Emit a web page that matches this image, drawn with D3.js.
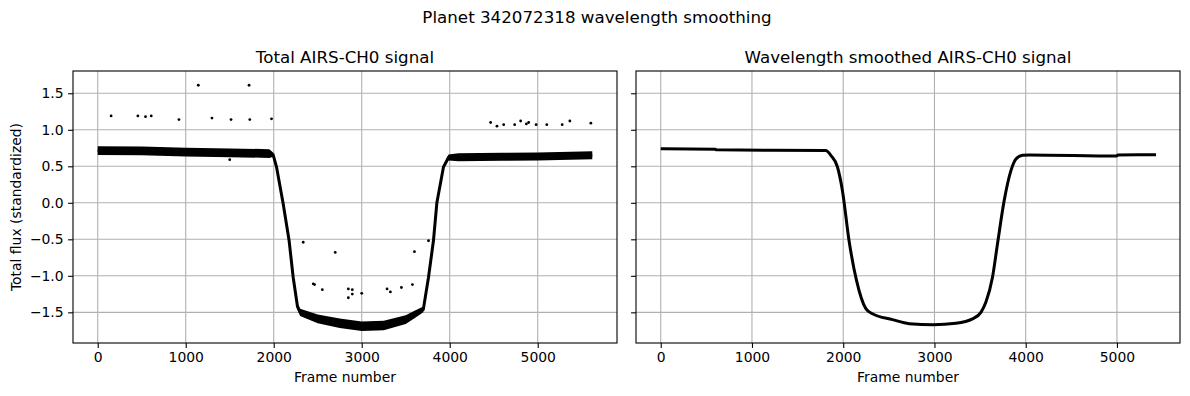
<!DOCTYPE html>
<html>
<head>
<meta charset="utf-8">
<script src="https://cdn.jsdelivr.net/npm/d3@7"></script>
<style>
  body { margin: 0; background: #fff; }
  svg { display: block; font-family: "DejaVu Sans", sans-serif; }
</style>
</head>
<body>
<div id="chart"></div>
<script>
// raw signal: centre of the noisy band and its half-spread
var rawFrames = [0, 500, 1000, 1500, 1950, 1993, 2032, 2107, 2175, 2221, 2270, 2300, 2500, 2750, 3000, 3250, 3500, 3600, 3700, 3759, 3815, 3854, 3929, 3986, 4100, 4600, 5000, 5620];
var rawFlux   = [0.715, 0.71, 0.695, 0.685, 0.675, 0.66, 0.49, -0.01, -0.52, -1.02, -1.42, -1.50, -1.59, -1.65, -1.69, -1.68, -1.60, -1.53, -1.46, -1.02, -0.52, 0.0, 0.49, 0.62, 0.625, 0.63, 0.635, 0.65];
var rawSpread = [0.06, 0.06, 0.06, 0.06, 0.06, 0.03, 0.02, 0.02, 0.02, 0.02, 0.04, 0.05, 0.06, 0.065, 0.065, 0.065, 0.06, 0.05, 0.04, 0.02, 0.02, 0.02, 0.02, 0.04, 0.055, 0.055, 0.055, 0.055];

// isolated points of the raw signal
var outlierFrames = [152, 456, 543, 608, 923, 1143, 1298, 1515, 1720, 1728, 1975, 1500,
    4465, 4537, 4613, 4738, 4806, 4871, 4897, 4982, 5103, 5278, 5365, 5604,
    2335, 2699, 3599, 3759, 2449, 2464, 2552, 2848, 2893, 2848, 2893, 3000, 3288, 3326, 3451, 3576];
var outlierFlux = [1.19, 1.19, 1.18, 1.19, 1.14, 1.61, 1.16, 1.14, 1.61, 1.14, 1.15, 0.59,
    1.10, 1.05, 1.07, 1.07, 1.12, 1.08, 1.10, 1.07, 1.07, 1.07, 1.12, 1.09,
    -0.54, -0.68, -0.67, -0.52, -1.11, -1.12, -1.19, -1.18, -1.19, -1.30, -1.25, -1.24, -1.18, -1.22, -1.16, -1.12];

// wavelength smoothed signal
var smoothFrames = [0, 600, 610, 1809, 1864, 1937, 1991, 2064, 2145, 2248, 2320, 2540, 2723, 2989, 3235, 3417, 3509, 3564, 3636, 3691, 3764, 3838, 3893, 3965, 4039, 4996, 5010, 5428];
var smoothFlux   = [0.74, 0.733, 0.725, 0.715, 0.65, 0.49, 0.17, -0.52, -1.06, -1.45, -1.52, -1.60, -1.655, -1.67, -1.65, -1.59, -1.50, -1.36, -1.02, -0.56, 0.03, 0.44, 0.60, 0.65, 0.656, 0.64, 0.655, 0.657];

var xTicks = [0, 1000, 2000, 3000, 4000, 5000];
var yTicks = [-1.5, -1.0, -0.5, 0.0, 0.5, 1.0, 1.5];

var W = 1190, H = 396;
var plotTop = 71, plotBottom = 343;

var svg = d3.select("#chart").append("svg")
    .attr("width", W)
    .attr("height", H);

var y = d3.scaleLinear().domain([-1.92, 1.805]).range([plotBottom, plotTop]);

svg.append("text")
    .attr("x", 597).attr("y", 23)
    .attr("text-anchor", "middle")
    .style("font-size", "16.7px")
    .text("Planet 342072318 wavelength smoothing");

function makePanel(left, right, xDomain, title, showYLabels) {
    var x = d3.scaleLinear().domain(xDomain).range([left, right]);
    var g = svg.append("g");

    // grid
    g.selectAll(".vgrid").data(xTicks).enter().append("line")
        .attr("x1", function(d) { return x(d); }).attr("x2", function(d) { return x(d); })
        .attr("y1", plotTop).attr("y2", plotBottom)
        .attr("stroke", "#b0b0b0").attr("stroke-width", 1.1);
    g.selectAll(".hgrid").data(yTicks).enter().append("line")
        .attr("x1", left).attr("x2", right)
        .attr("y1", function(d) { return y(d); }).attr("y2", function(d) { return y(d); })
        .attr("stroke", "#b0b0b0").attr("stroke-width", 1.1);

    var xAxis = g.append("g")
        .attr("transform", "translate(0," + plotBottom + ")")
        .call(d3.axisBottom(x).tickValues(xTicks).tickFormat(d3.format("d")).tickSize(4.9).tickPadding(4.5));
    var yAxis = g.append("g")
        .attr("transform", "translate(" + left + ",0)")
        .call(d3.axisLeft(y).tickValues(yTicks).tickFormat(showYLabels ? function(d) { return d.toFixed(1).replace("-", "\u2212"); } : "").tickSize(4.9).tickPadding(4.5));
    [xAxis, yAxis].forEach(function(a) {
        a.select(".domain").remove();
        a.selectAll("line").attr("stroke", "#000").attr("stroke-width", 1.1);
        a.selectAll("text").attr("fill", "#000").style("font-size", "13.9px").style("font-family", "DejaVu Sans, sans-serif");
    });

    g.append("text")
        .attr("x", (left + right) / 2).attr("y", 63)
        .attr("text-anchor", "middle")
        .style("font-size", "16.7px")
        .text(title);

    g.append("text")
        .attr("x", (left + right) / 2).attr("y", 382)
        .attr("text-anchor", "middle")
        .style("font-size", "13.9px")
        .text("Frame number");

    return { x: x, g: g, left: left, right: right };
}

function frame(p) {
    p.g.append("rect")
        .attr("x", p.left).attr("y", plotTop)
        .attr("width", p.right - p.left).attr("height", plotBottom - plotTop)
        .attr("fill", "none").attr("stroke", "#000").attr("stroke-width", 1.1);
}

// left panel: raw signal
var p1 = makePanel(73, 617, [-281, 5901], "Total AIRS-CH0 signal", true);
var rawData = rawFrames.map(function(f, i) { return { f: f, v: rawFlux[i], s: rawSpread[i] }; });

p1.g.append("path")
    .datum(rawData)
    .attr("fill", "#000")
    .attr("d", d3.area()
        .x(function(d) { return p1.x(d.f); })
        .y0(function(d) { return y(d.v - d.s); })
        .y1(function(d) { return y(d.v + d.s); }));

p1.g.append("path")
    .datum(rawData)
    .attr("fill", "none")
    .attr("stroke", "#000")
    .attr("stroke-width", 3)
    .attr("d", d3.line()
        .x(function(d) { return p1.x(d.f); })
        .y(function(d) { return y(d.v); }));

p1.g.selectAll(".outlier")
    .data(outlierFrames.map(function(f, i) { return { f: f, v: outlierFlux[i] }; }))
    .enter().append("circle")
    .attr("cx", function(d) { return p1.x(d.f); })
    .attr("cy", function(d) { return y(d.v); })
    .attr("r", 1.4)
    .attr("fill", "#000");
frame(p1);

svg.append("text")
    .attr("transform", "translate(21," + ((plotTop + plotBottom) / 2) + ") rotate(-90)")
    .attr("text-anchor", "middle")
    .style("font-size", "13.9px")
    .text("Total flux (standardized)");

// right panel: smoothed
var p2 = makePanel(636, 1180, [-271, 5691], "Wavelength smoothed AIRS-CH0 signal", false);
p2.g.append("path")
    .datum(smoothFrames.map(function(f, i) { return { f: f, v: smoothFlux[i] }; }))
    .attr("fill", "none")
    .attr("stroke", "#000")
    .attr("stroke-width", 3)
    .attr("stroke-linejoin", "round")
    .attr("d", d3.line()
        .curve(d3.curveMonotoneX)
        .x(function(d) { return p2.x(d.f); })
        .y(function(d) { return y(d.v); }));
frame(p2);
</script>
</body>
</html>
